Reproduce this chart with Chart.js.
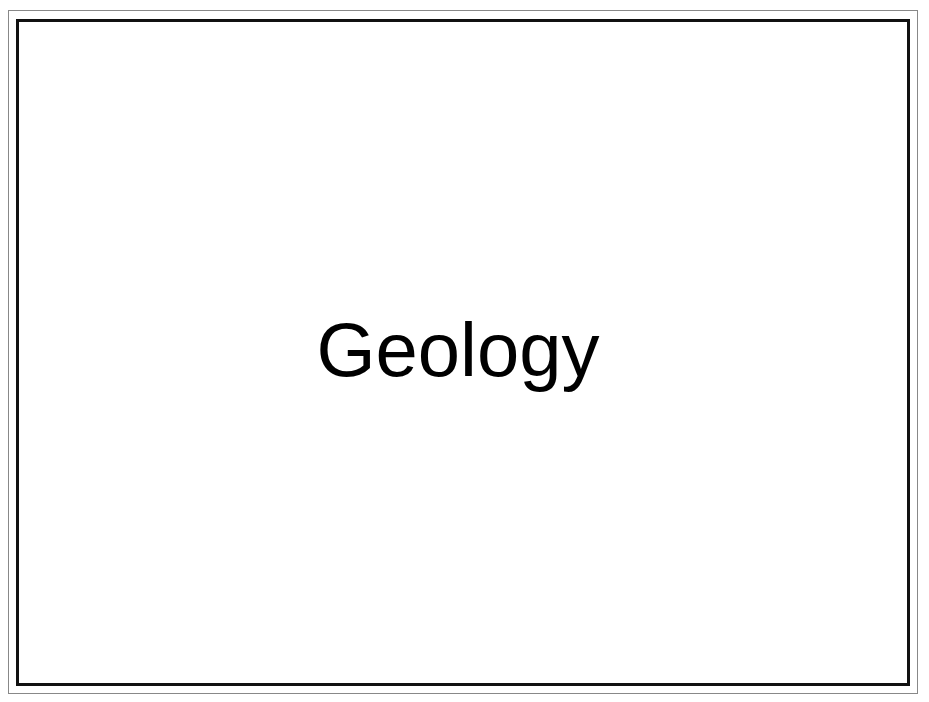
<!DOCTYPE html>
<html><head><meta charset="utf-8">
<script src="https://cdn.jsdelivr.net/npm/chart.js@4"></script>
<style>
html,body{margin:0;padding:0;background:#fff;width:929px;height:702px;overflow:hidden}
#outer{position:absolute;left:8px;top:10px;width:908px;height:682px;border:1px solid #888}
#inner{position:absolute;left:16px;top:19px;width:888px;height:661px;border:3px solid #111}
#wrap{position:absolute;left:19px;top:22px;width:888px;height:661px}
</style></head><body>
<div id="outer"></div><div id="inner"></div>
<div id="wrap"><canvas id="c"></canvas></div>
<script>
const titleText = "Geology";
const categories = [];
const values = [];
const centerTitle = {
  id: 'centerTitle',
  afterDraw(chart){
    const ctx = chart.ctx;
    ctx.save();
    ctx.fillStyle = '#000';
    ctx.font = '76px "Liberation Sans", Arial, sans-serif';
    ctx.textAlign = 'center';
    ctx.textBaseline = 'alphabetic';
    ctx.fillText(titleText, 439, 354);
    ctx.restore();
  }
};
new Chart(document.getElementById('c'), {
  type: 'bar',
  data: { labels: categories, datasets: [{ data: values }] },
  options: {
    responsive: true, maintainAspectRatio: false, animation: false,
    plugins: { legend: { display: false }, tooltip: { enabled: false } },
    scales: { x: { display: false }, y: { display: false } }
  },
  plugins: [centerTitle]
});
</script>
</body></html>
